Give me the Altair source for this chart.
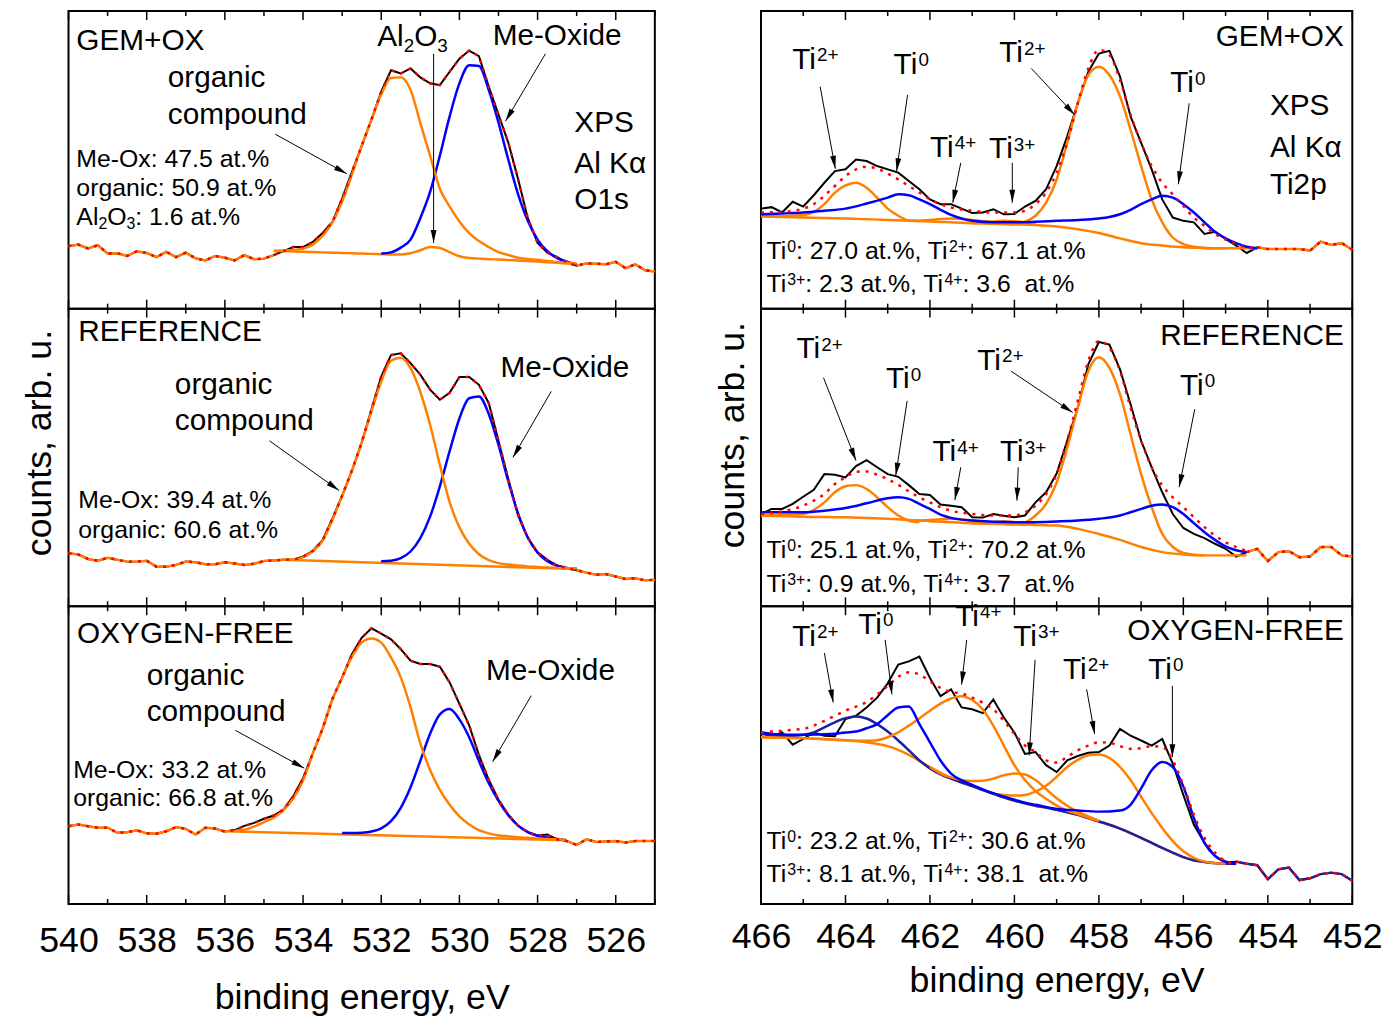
import math
import re
import altair as alt
import pandas as pd

FONT = "Liberation Sans"
ORANGE = "#ff8000"
BLUE = "#0000ff"
NAVY = "#1f1fa0"
RED = "#ff0000"
W_L, W_R, H = 591, 596, 300
ARROW_PATH = "M0,-1L0.45,1L-0.45,1Z"
ARROW_SIZE = 170
AX_FS = 36

# measurement grids (0.25 eV step)
O1S_X = [round(540 - 0.25 * i, 2) for i in range(61)]
TI_X = [round(466 - 0.25 * i, 2) for i in range(57)]
O1S_MAJOR = [540, 538, 536, 534, 532, 530, 528, 526]
O1S_MINOR = [539, 537, 535, 533, 531, 529, 527, 525]
TI_MAJOR = [466, 464, 462, 460, 458, 456, 454, 452]
TI_MINOR = [465, 463, 461, 459, 457, 455, 453]


def steps(start, values):
    return [round(start - 0.25 * i, 2) for i in range(len(values))], values


def pairs(p):
    return [a for a, b in p], [b for a, b in p]


# ---------------- O1s : GEM+OX ----------------
L1_DATA = [21.0, 21.5, 20.2, 21.3, 18.5, 18.6, 17.7, 19.3, 18.7, 17.3, 19.1, 17.3, 18.8, 16.9, 16.2,
           17.7, 17.1, 16.2, 18.0, 16.6, 16.8, 18.0, 19.3, 20.7, 20.7, 22.4, 25.4, 29.1, 37.0, 45.9,
           54.7, 63.5, 72.9, 80.1, 79.0, 80.7, 77.7, 75.7, 75.1, 79.6, 84.0, 86.7, 84.8, 74.6, 65.2,
           55.8, 43.6, 30.4, 22.1, 18.8, 17.3, 15.5, 14.4, 15.2, 15.1, 14.9, 15.7, 13.6, 14.9, 12.9, 12.5]
L1_ORG = steps(534.75, [19.4, 19.5, 19.7, 20.2, 21.5, 24.5, 29.0, 36.0, 45.0, 54.7, 63.5, 72.0, 77.5, 77.7,
                        73.5, 62.4, 51.4, 40.3, 34.3, 29.3, 25.4, 22.7, 20.7, 19.0, 18.0, 17.1, 16.7, 16.4,
                        16.0, 15.7, 15.4, 15.2])
L1_MEOX = steps(532.0, [18.5, 18.9, 20.5, 23.2, 30.4, 39.2, 51.4, 64.6, 75.7, 81.8, 81.5, 73.5, 62.5, 50.1,
                        38.5, 29.5, 23.2, 19.3, 17.0, 15.8, 14.9])
L1_AL2O3 = steps(534.75, [19.4, 19.3, 19.2, 19.1, 19.0, 18.9, 18.8, 18.7, 18.6, 18.5, 18.4, 18.3, 18.2, 18.2,
                          18.6, 19.6, 20.7, 20.4, 19.0, 17.6, 17.0, 16.8, 16.6, 16.5, 16.3, 16.2, 16.0, 15.8,
                          15.6, 15.4, 15.2, 14.9])

# ---------------- O1s : REFERENCE ----------------
L2_DATA = [17.8, 17.4, 15.9, 15.3, 16.3, 15.6, 15.0, 15.0, 15.3, 13.3, 13.3, 13.9, 15.0, 14.8, 14.1,
           14.1, 14.8, 14.4, 13.9, 14.3, 15.2, 15.4, 15.6, 15.6, 16.7, 18.6, 22.2, 29.4, 37.2, 45.6,
           55.0, 66.1, 77.2, 84.4, 85.0, 81.7, 77.8, 72.8, 69.4, 71.7, 77.0, 77.0, 74.4, 68.3, 55.6,
           42.8, 30.6, 23.0, 18.1, 15.6, 13.7, 12.8, 12.1, 11.3, 10.6, 10.8, 10.0, 9.2, 9.4, 8.7, 8.9]
L2_ORG = steps(534.5, [15.6, 15.6, 16.5, 18.5, 22.0, 29.0, 37.0, 45.5, 55.0, 65.5, 75.5, 82.5, 83.5, 80.0,
                       72.0, 61.0, 47.5, 35.0, 26.5, 21.0, 17.5, 15.5, 14.5, 14.0, 13.7, 13.4, 13.2, 13.0,
                       12.9, 12.8, 12.7])
L2_MEOX = steps(532.0, [15.1, 15.3, 16.2, 18.4, 22.9, 30.1, 40.3, 52.1, 63.1, 69.9, 70.5, 64.6, 54.2, 42.0,
                        31.2, 23.1, 18.0, 15.1, 13.6, 12.9, 12.6])
L2_BASE = ([534.5, 527.0], [15.6, 12.5])

# ---------------- O1s : OXYGEN-FREE ----------------
L3_DATA = [26.1, 26.7, 26.1, 25.6, 25.6, 23.9, 24.1, 24.7, 23.7, 23.6, 24.4, 25.8, 25.2, 23.3, 25.6,
           25.3, 24.3, 24.8, 26.2, 27.2, 28.6, 29.7, 31.7, 36.2, 42.2, 50.6, 58.9, 68.9, 76.1, 83.9,
           89.4, 92.6, 90.8, 88.9, 85.6, 81.7, 80.6, 80.6, 79.7, 74.4, 67.2, 60.0, 50.0, 41.7, 35.0,
           30.0, 26.3, 24.1, 23.0, 23.3, 21.7, 21.1, 19.8, 21.7, 20.8, 21.0, 21.1, 20.6, 21.1, 21.1, 21.1]
L3_ORG = steps(535.75, [24.6, 24.9, 26.0, 27.5, 29.0, 31.5, 35.5, 41.5, 50.5, 58.9, 68.5, 76.0, 83.0, 87.8,
                        89.2, 87.8, 82.8, 76.1, 66.1, 53.9, 45.0, 38.3, 33.3, 29.4, 26.7, 24.8, 23.7, 23.0,
                        22.7, 22.4, 22.2, 22.0, 21.8, 21.7, 21.4])
L3_MEOX = steps(533.0, [23.8, 23.8, 23.9, 24.3, 25.4, 27.8, 32.3, 39.2, 48.1, 57.2, 63.7, 65.5, 62.0, 56.0,
                        48.0, 40.6, 34.6, 29.8, 26.3, 24.1, 22.9, 22.3, 21.8, 21.4])
L3_BASE = ([536.0, 527.25], [24.4, 21.4])

# ---------------- Ti2p : GEM+OX ----------------
R1_DATA = [33.6, 34.1, 32.3, 35.9, 34.3, 38.1, 42.3, 46.2, 46.8, 50.1, 49.6, 47.9, 46.8, 45.7, 42.9,
           40.1, 36.7, 35.1, 35.1, 33.6, 32.1, 32.3, 33.4, 31.7, 31.8, 34.3, 36.2, 40.1, 47.9, 57.9,
           69.0, 79.6, 85.7, 86.6, 78.0, 64.6, 55.7, 46.8, 36.7, 30.6, 29.5, 29.0, 25.1, 25.8, 23.4,
           21.2, 18.7, 20.6, 20.0, 20.0, 20.0, 20.0, 19.5, 22.5, 21.4, 22.0, 19.8]
R1_BG = [(466, 31.0), (465, 30.6), (464, 30.3), (463, 29.8), (462, 29.3), (461, 28.7), (460, 28.3),
         (459.5, 28.1), (459, 27.6), (458.5, 26.7), (458, 25.4), (457.5, 23.6), (457, 22.0), (456.5, 21.2),
         (456, 20.6), (455.5, 20.4), (455, 20.3), (454.25, 20.3)]
R1_TI0 = [(466, 31.7), (465.5, 32.0), (465, 32.3), (464.5, 32.9), (464, 33.6), (463.5, 35.3), (463, 37.3),
          (462.75, 38.4), (462.5, 38.1), (462.25, 36.7), (462, 35.1), (461.75, 33.2), (461.5, 31.5),
          (461.25, 30.3), (461, 29.5), (460.5, 29.0), (460, 29.0), (459.5, 29.2), (459, 29.5), (458.5, 29.8),
          (458, 30.3), (457.75, 30.8), (457.5, 31.7), (457.25, 33.2), (457, 35.1), (456.75, 36.7),
          (456.5, 37.9), (456.25, 37.3), (456, 35.1), (455.75, 32.3), (455.5, 29.0), (455.25, 25.8),
          (455, 23.6), (454.75, 22.0), (454.5, 20.8), (454.25, 20.3)]
R1_TI2_SAT = [(466, 31.0), (465, 31.4), (464.75, 32.5), (464.5, 35.1), (464.25, 39.0), (464, 41.4),
              (463.75, 42.3), (463.5, 40.6), (463.25, 37.3), (463, 33.6), (462.75, 31.2), (462.5, 29.6),
              (462.25, 29.4)]
R1_TI4 = [(462.5, 29.4), (462, 29.8), (461.5, 30.3), (461, 29.8), (460.5, 29.0), (460, 28.3)]
R1_TI3 = [(461, 28.7), (460.5, 29.2), (460.25, 29.5), (460, 29.4), (459.75, 29.0), (459.5, 28.3)]
R1_TI2 = [(460, 28.5), (459.75, 29.2), (459.5, 31.2), (459.25, 35.6), (459, 43.4), (458.75, 55.7),
          (458.5, 69.0), (458.25, 78.5), (458, 81.3), (457.75, 78.5), (457.5, 71.3), (457.25, 60.1),
          (457, 47.9), (456.75, 36.7), (456.5, 29.0), (456.25, 23.9), (456, 21.7), (455.75, 20.8),
          (455.5, 20.4), (455, 20.3)]
R1_FIT = [(466, 32.3), (465.5, 32.5), (465, 33.6), (464.75, 35.1), (464.5, 37.9), (464.25, 41.2), (464, 44.5),
          (463.75, 46.8), (463.5, 47.7), (463.25, 47.0), (463, 45.4), (462.75, 43.4), (462.5, 41.2),
          (462.25, 39.0), (462, 36.7), (461.75, 35.1), (461.5, 34.0), (461, 32.9), (460.5, 32.3), (460, 32.3),
          (459.75, 32.9), (459.5, 35.1), (459.25, 39.0), (459, 45.7), (458.75, 55.7), (458.5, 69.0),
          (458.25, 80.7), (458, 86.9), (457.75, 85.2), (457.5, 76.8), (457.25, 65.1), (457, 55.7),
          (456.75, 47.9), (456.5, 42.3), (456.25, 38.4), (456, 34.5), (455.75, 30.6), (455.5, 27.8),
          (455.25, 25.1), (455, 23.2), (454.75, 21.7), (454.5, 20.6), (454.25, 20.3)]

# ---------------- Ti2p : REFERENCE ----------------
R2_DATA = [31.0, 32.7, 32.7, 34.4, 36.8, 39.1, 44.4, 44.2, 43.3, 47.1, 49.1, 46.7, 44.4, 43.5, 40.7,
           37.7, 37.4, 34.2, 33.8, 33.3, 29.9, 29.8, 31.0, 30.4, 29.9, 30.5, 34.9, 38.3, 44.6, 55.6,
           66.7, 81.3, 88.8, 87.9, 79.6, 67.9, 55.6, 46.7, 38.3, 31.0, 26.3, 24.3, 22.9, 21.0, 19.3,
           16.7, 18.2, 19.3, 15.2, 18.2, 18.5, 16.5, 16.7, 19.9, 19.9, 17.1, 16.7]
R2_BG = [(466, 30.5), (465, 30.1), (464, 29.9), (463, 29.4), (462, 28.6), (461, 27.9), (460, 27.5), (459, 27.1),
         (458.5, 26.0), (458, 24.3), (457.5, 22.3), (457, 19.9), (456.5, 18.2), (456, 17.4), (455.5, 17.1),
         (454.5, 17.1)]
R2_TI0 = [(466, 31.6), (465, 31.6), (464.5, 32.1), (464, 33.0), (463.5, 34.6), (463, 36.3), (462.75, 36.6),
          (462.5, 36.1), (462.25, 34.4), (462, 32.7), (461.75, 30.8), (461.5, 29.7), (461, 28.8), (460, 28.2),
          (459, 28.5), (458.5, 28.8), (458, 29.4), (457.5, 30.5), (457.25, 31.6), (457, 32.7), (456.75, 33.8),
          (456.5, 34.2), (456.25, 33.3), (456, 31.0), (455.75, 27.9), (455.5, 24.9), (455.25, 22.3),
          (455, 20.1), (454.75, 18.8), (454.5, 18.2)]
R2_TI2_SAT = [(466, 30.5), (465, 31.0), (464.75, 32.4), (464.5, 34.9), (464.25, 38.3), (464, 40.3),
              (463.75, 40.7), (463.5, 39.4), (463.25, 36.6), (463, 33.3), (462.75, 30.5), (462.5, 28.8),
              (462.25, 28.2)]
R2_TI4 = [(462.5, 28.6), (462, 29.0), (461.5, 29.4), (461, 28.8), (460.5, 27.9), (460, 27.5)]
R2_TI3 = [(461, 27.9), (460.5, 28.2), (460.25, 28.6), (460, 28.3), (459.75, 27.9), (459.5, 27.5)]
R2_TI2 = [(460, 27.7), (459.75, 28.2), (459.5, 30.5), (459.25, 34.4), (459, 41.6), (458.75, 53.3),
          (458.5, 66.7), (458.25, 79.0), (458, 83.7), (457.75, 80.1), (457.5, 71.2), (457.25, 57.8),
          (457, 44.4), (456.75, 33.3), (456.5, 24.3), (456.25, 19.9), (456, 17.9), (455.75, 17.3),
          (455.5, 17.1)]
R2_FIT = [(466, 31.0), (465.5, 31.9), (465, 33.8), (464.75, 35.5), (464.5, 37.7), (464.25, 41.1), (464, 43.3),
          (463.75, 45.2), (463.5, 45.3), (463.25, 44.2), (463, 42.7), (462.75, 40.8), (462.5, 38.6),
          (462.25, 36.6), (462, 34.9), (461.75, 33.3), (461.5, 32.1), (461, 31.0), (460.5, 30.5), (460, 30.5),
          (459.75, 31.6), (459.5, 33.8), (459.25, 37.7), (459, 44.4), (458.75, 55.6), (458.5, 69.0),
          (458.25, 82.4), (458, 89.1), (457.75, 86.8), (457.5, 79.0), (457.25, 66.7), (457, 55.6),
          (456.75, 46.7), (456.5, 40.6), (456.25, 36.6), (456, 33.3), (455.75, 29.9), (455.5, 26.6),
          (455.25, 23.8), (455, 21.5), (454.75, 19.9), (454.5, 18.5)]

# ---------------- Ti2p : OXYGEN-FREE ----------------
R3_DATA = [57.6, 56.2, 57.6, 53.5, 55.4, 57.6, 56.5, 56.3, 62.1, 63.2, 66.0, 69.3, 74.1, 80.4, 81.5,
           83.1, 75.9, 69.8, 72.1, 66.0, 65.4, 64.1, 68.7, 62.6, 57.6, 50.4, 51.0, 46.6, 44.3, 48.2,
           49.7, 50.8, 51.0, 53.2, 58.8, 56.5, 54.9, 53.2, 55.4, 47.1, 36.6, 26.6, 20.5, 16.1, 13.9,
           14.2, 13.5, 13.0, 8.3, 11.6, 12.2, 8.0, 8.6, 10.0, 10.5, 10.0, 7.8]
R3_BG = [(466, 56.0), (465, 55.7), (464.5, 55.4), (464, 55.0), (463.5, 54.3), (463, 53.0), (462.5, 50.1),
         (462, 46.0), (461.5, 42.3), (461, 39.6), (460.5, 37.0), (460, 34.7), (459.5, 33.0), (459, 31.6),
         (458.5, 29.9), (458, 27.7), (457.5, 25.3), (457, 22.2), (456.5, 18.8), (456, 15.7), (455.5, 14.1),
         (455, 13.5), (454.75, 13.5)]
R3_TI2_SAT = [(466, 57.1), (465.75, 56.8), (465.5, 56.5), (465.25, 56.5), (465, 56.8), (464.75, 57.6),
              (464.5, 59.3), (464.25, 61.0), (464, 62.4), (463.75, 63.0), (463.5, 62.3), (463.25, 60.4),
              (463, 57.9), (462.75, 54.9), (462.5, 51.6), (462.25, 48.2), (462, 45.5), (461.75, 43.5),
              (461.5, 42.1), (461.25, 40.8), (461, 39.6), (460.75, 38.2), (460.5, 37.0), (460.25, 35.8),
              (460, 34.7), (459.75, 33.8), (459.5, 33.0), (459.25, 32.4), (459, 31.6), (458.75, 30.8),
              (458.5, 29.9), (458.25, 28.8), (458, 27.7), (457.75, 26.6), (457.5, 25.3), (457.25, 23.8),
              (457, 22.2), (456.75, 20.5), (456.5, 18.8), (456.25, 17.2), (456, 15.7), (455.75, 14.6),
              (455.5, 14.1), (455.25, 13.7), (455, 13.5), (454.75, 13.5)]
R3_TI0 = [(466, 57.6), (465.75, 57.1), (465.5, 56.9), (465.25, 56.8), (465, 56.8), (464.75, 56.9),
          (464.5, 57.0), (464.25, 57.2), (464, 57.6), (463.75, 57.9), (463.5, 59.0), (463.25, 60.4),
          (463, 63.4), (462.75, 66.0), (462.5, 66.3), (462.25, 60.4), (462, 54.3), (461.75, 48.2),
          (461.5, 43.8), (461.25, 41.5), (461, 40.0), (460.75, 38.5), (460.5, 37.2), (460.25, 36.0),
          (460, 35.0), (459.75, 34.0), (459.5, 33.3), (459, 31.9), (458.5, 31.4), (458, 31.0), (457.5, 31.4),
          (457.25, 33.3), (457, 38.8), (456.75, 44.9), (456.5, 47.7), (456.25, 46.0), (456, 39.4),
          (455.75, 28.8), (455.5, 20.5), (455.25, 16.1), (455, 14.2), (454.75, 13.5)]
R3_TI4 = [(466, 56.0), (465, 55.7), (464, 55.0), (463.5, 54.8), (463.25, 55.0), (463, 56.0), (462.75, 57.6),
          (462.5, 59.9), (462.25, 62.3), (462, 64.9), (461.75, 67.3), (461.5, 69.0), (461.25, 69.8),
          (461, 68.5), (460.75, 65.4), (460.5, 59.9), (460.25, 53.2), (460, 46.6), (459.75, 41.6),
          (459.5, 37.9), (459.25, 35.3), (459, 33.0), (458.75, 31.3), (458.5, 30.2), (458.25, 29.0),
          (458, 27.9)]
R3_TI3 = [(462, 46.0), (461.75, 43.8), (461.5, 42.5), (461.25, 41.6), (461, 41.3), (460.75, 41.4),
          (460.5, 42.1), (460.25, 43.2), (460, 43.8), (459.75, 43.5), (459.5, 41.6), (459.25, 38.6),
          (459, 35.5), (458.75, 33.0), (458.5, 31.0), (458.25, 29.4), (458, 27.9)]
R3_TI2 = [(460.5, 37.0), (460.25, 36.6), (460, 36.4), (459.75, 36.6), (459.5, 37.7), (459.25, 39.7),
          (459, 42.7), (458.75, 46.0), (458.5, 48.4), (458.25, 49.9), (458, 50.2), (457.75, 49.0),
          (457.5, 46.0), (457.25, 41.6), (457, 36.0), (456.75, 30.5), (456.5, 25.5), (456.25, 21.1),
          (456, 17.7), (455.75, 15.5), (455.5, 14.2), (455.25, 13.7), (455, 13.5)]
R3_FIT = [(466, 57.6), (465.75, 57.9), (465.5, 58.2), (465.25, 58.5), (465, 58.8), (464.75, 59.9),
          (464.5, 61.5), (464.25, 63.2), (464, 64.9), (463.75, 66.3), (463.5, 67.8), (463.25, 70.4),
          (463, 73.2), (462.75, 76.3), (462.5, 77.8), (462.25, 77.1), (462, 74.8), (461.75, 72.6),
          (461.5, 71.2), (461.25, 70.7), (461, 69.3), (460.75, 67.6), (460.5, 65.4), (460.25, 61.5),
          (460, 57.1), (459.75, 53.2), (459.5, 51.0), (459.25, 48.2), (459, 47.5), (458.75, 49.4),
          (458.5, 51.6), (458.25, 53.2), (458, 54.3), (457.75, 54.1), (457.5, 53.0), (457.25, 52.1),
          (457, 52.3), (456.75, 53.0), (456.5, 52.7), (456.25, 48.2), (456, 39.9), (455.75, 29.9),
          (455.5, 22.2), (455.25, 17.2), (455, 14.4), (454.75, 13.5)]

# ---------------- annotations (^{..} superscript, _{..} subscript) ----------------
L1_TEXT = [("GEM+OX", 539.8, 90.0, 30, "left"), ("organic", 537.46, 77.3, 30, "left"),
           ("compound", 537.46, 65.0, 30, "left"), ("Me-Ox: 47.5 at.%", 539.8, 50.3, 25, "left"),
           ("organic: 50.9 at.%", 539.8, 40.6, 25, "left"), ("Al_{2}O_{3}: 1.6 at.%", 539.8, 30.9, 25, "left"),
           ("Al_{2}O_{3}", 531.2, 91.2, 30, "center"), ("Me-Oxide", 527.5, 91.7, 30, "center"),
           ("XPS", 527.06, 62.4, 30, "left"), ("Al Kα", 527.06, 48.6, 30, "left"), ("O1s", 527.06, 36.5, 30, "left")]
L1_ARROWS = [(534.71, 58.6, 532.88, 45.3), (530.66, 85.6, 530.66, 22.1), (527.8, 85.6, 528.82, 63.0)]

L2_TEXT = [("REFERENCE", 539.75, 92.2, 30, "left"), ("organic", 537.28, 74.4, 30, "left"),
           ("compound", 537.28, 62.2, 30, "left"), ("Me-Ox: 39.4 at.%", 539.75, 35.6, 25, "left"),
           ("organic: 60.6 at.%", 539.75, 25.6, 25, "left"), ("Me-Oxide", 527.3, 80.0, 30, "center")]
L2_ARROWS = [(534.86, 55.6, 533.08, 38.9), (527.65, 72.2, 528.63, 50.0)]

L3_TEXT = [("OXYGEN-FREE", 539.78, 90.8, 30, "left"), ("organic", 538.0, 76.7, 30, "left"),
           ("compound", 538.0, 64.4, 30, "left"), ("Me-Ox: 33.2 at.%", 539.88, 45.0, 25, "left"),
           ("organic: 66.8 at.%", 539.88, 35.6, 25, "left"), ("Me-Oxide", 527.67, 78.3, 30, "center")]
L3_ARROWS = [(535.73, 58.3, 533.97, 45.6), (528.16, 70.0, 529.15, 47.8)]

R1_TEXT = [("GEM+OX", 452.2, 91.3, 30, "right"), ("Ti^{2+}", 465.26, 83.5, 30, "left"),
           ("Ti^{0}", 462.86, 81.8, 30, "left"), ("Ti^{4+}", 462.0, 54.0, 30, "left"),
           ("Ti^{3+}", 460.6, 53.5, 30, "left"), ("Ti^{2+}", 460.36, 85.7, 30, "left"),
           ("Ti^{0}", 456.31, 75.7, 30, "left"), ("XPS", 453.95, 68.0, 30, "left"),
           ("Al Kα", 453.95, 54.0, 30, "left"), ("Ti2p", 453.95, 41.5, 30, "left"),
           ("Ti^{0}: 27.0 at.%, Ti^{2+}: 67.1 at.%", 465.87, 19.3, 25, "left"),
           ("Ti^{3+}: 2.3 at.%, Ti^{4+}: 3.6\u00a0 at.%", 465.87, 8.3, 25, "left")]
R1_ARROWS = [(464.6, 74.6, 464.24, 47.0), (462.53, 71.8, 462.79, 46.2), (461.27, 49.0, 461.46, 35.6),
             (460.05, 49.0, 460.05, 35.6), (459.6, 80.7, 458.57, 65.1), (455.86, 69.0, 456.12, 41.8)]

R2_TEXT = [("REFERENCE", 452.2, 90.7, 30, "right"), ("Ti^{2+}", 465.16, 86.3, 30, "left"),
           ("Ti^{0}", 463.04, 76.2, 30, "left"), ("Ti^{4+}", 461.94, 51.7, 30, "left"),
           ("Ti^{3+}", 460.34, 51.7, 30, "left"), ("Ti^{2+}", 460.88, 82.4, 30, "left"),
           ("Ti^{0}", 456.08, 74.0, 30, "left"),
           ("Ti^{0}: 25.1 at.%, Ti^{2+}: 70.2 at.%", 465.87, 18.8, 25, "left"),
           ("Ti^{3+}: 0.9 at.%, Ti^{4+}: 3.7\u00a0 at.%", 465.87, 7.6, 25, "left")]
R2_ARROWS = [(464.52, 76.8, 463.75, 48.9), (462.54, 69.0, 462.81, 43.9), (461.27, 46.7, 461.41, 35.7),
             (459.91, 46.7, 459.94, 35.5), (460.08, 79.0, 458.62, 65.1), (455.73, 66.2, 456.1, 40.0)]

R3_TEXT = [("OXYGEN-FREE", 452.2, 91.5, 30, "right"), ("Ti^{2+}", 465.26, 89.8, 30, "left"),
           ("Ti^{0}", 463.70, 93.7, 30, "left"), ("Ti^{4+}", 461.4, 96.5, 30, "left"),
           ("Ti^{3+}", 460.03, 89.8, 30, "left"), ("Ti^{2+}", 458.85, 78.7, 30, "left"),
           ("Ti^{0}", 456.83, 78.7, 30, "left"),
           ("Ti^{0}: 23.2 at.%, Ti^{2+}: 30.6 at.%", 465.87, 21.1, 25, "left"),
           ("Ti^{3+}: 8.1 at.%, Ti^{4+}: 38.1\u00a0 at.%", 465.87, 10.0, 25, "left")]
R3_ARROWS = [(464.5, 84.3, 464.29, 67.7), (463.06, 88.7, 462.9, 70.4), (461.13, 88.7, 461.25, 73.7),
             (459.51, 82.0, 459.65, 49.9), (458.29, 72.1, 458.1, 57.1), (456.26, 73.2, 456.26, 49.3)]

# advance widths of Liberation Sans (Arial metrics), per 1000 em
CW = {" ": 278, "\u00a0": 278, "%": 889, "+": 584, ",": 278, "-": 333, ".": 278, ":": 278,
      "A": 667, "C": 722, "E": 667, "F": 611, "G": 778, "K": 667, "M": 833, "N": 722, "O": 778, "P": 667,
      "R": 722, "S": 667, "T": 611, "X": 667, "Y": 667, "a": 556, "c": 500, "d": 556, "e": 556, "g": 556,
      "i": 222, "l": 222, "m": 833, "n": 556, "o": 556, "p": 556, "r": 333, "s": 500, "t": 278, "u": 556,
      "x": 500, "α": 578}


def text_w(s, fs):
    return sum(CW.get(c, 556) for c in s) * fs / 1000.0


def rich(text, x0, y0, fs, align, ppx):
    small = round(fs * 0.64)
    segs = []
    for p in re.split(r"(\^\{[^}]*\}|_\{[^}]*\})", text):
        if not p:
            continue
        if p.startswith("^{"):
            segs.append((p[2:-1], small, fs * 0.16))
        elif p.startswith("_{"):
            segs.append((p[2:-1], small, -fs * 0.3))
        else:
            segs.append((p, fs, 0.0))
    total = sum(text_w(s, f) for s, f, _ in segs)
    cum = {"left": 0.0, "center": -total / 2, "right": -total}[align]
    out = []
    for s, f, sh in segs:
        lead = len(s) - len(s.lstrip(" "))
        out.append({"x": x0 - (cum + text_w(" " * lead, f)) / ppx, "y": y0 + sh * 100 / H,
                    "text": s.strip(" "), "fs": f})
        cum += text_w(s, f)
    return out


def panel(col, y_data, fit_lo, fit_hi, edge_color, comps, fit_curve, texts, arrows, bottom, middle):
    left = col == "L"
    xs = O1S_X if left else TI_X
    dom = [525, 540] if left else [452, 466]
    width = W_L if left else W_R
    ppx = width / (dom[1] - dom[0])
    xscale = alt.Scale(domain=dom, reverse=True, nice=False, zero=False)
    yscale = alt.Scale(domain=[0, 100], nice=False, zero=False)
    if bottom:
        xaxis = alt.Axis(values=O1S_MAJOR if left else TI_MAJOR, format="d", ticks=False, tickSize=0,
                         domain=False, grid=False, labelFont=FONT, labelFontSize=AX_FS, labelColor="black",
                         labelPadding=20 if left else 16, labelFlush=False, labelOverlap=False,
                         title="binding energy, eV", titleFont=FONT, titleFontSize=AX_FS,
                         titleFontWeight="normal", titleColor="black",
                         titlePadding=22 if left else 9)
    else:
        xaxis = None
    if middle:
        yaxis = alt.Axis(title="counts, arb. u.", labels=False, ticks=False, tickSize=0, domain=False,
                         grid=False, titleFont=FONT, titleFontSize=AX_FS, titleFontWeight="normal",
                         titleColor="black", titlePadding=10, titleY=135 if left else 127)
    else:
        yaxis = None

    def X(f="x"):
        return alt.X(f"{f}:Q", scale=xscale, axis=xaxis)

    def Y(f="y"):
        return alt.Y(f"{f}:Q", scale=yscale, axis=yaxis)

    layers = []
    ddf = pd.DataFrame({"x": xs, "y": y_data})
    layers.append(alt.Chart(ddf).mark_line(color="black", strokeWidth=2).encode(x=X(), y=Y()))
    for (cx, cy), color in comps:
        cdf = pd.DataFrame({"x": cx, "y": cy})
        layers.append(alt.Chart(cdf).mark_line(color=color, strokeWidth=2.5, interpolate="monotone")
                      .encode(x=X(), y=Y()))
    rows = []
    for x, y in zip(xs, y_data):
        if fit_hi is not None and x >= fit_hi:
            rows.append({"x": x, "y": y, "seg": "a"})
        if x <= fit_lo:
            rows.append({"x": x, "y": y, "seg": "b"})
    edf = pd.DataFrame(rows)
    layers.append(alt.Chart(edf).mark_line(color=edge_color, strokeWidth=2.5)
                  .encode(x=X(), y=Y(), detail="seg:N"))
    dots = dict(color=RED, strokeWidth=2.5, strokeDash=[3, 6])
    if fit_curve is None:
        layers.append(alt.Chart(ddf).mark_line(**dots).encode(x=X(), y=Y()))
    else:
        fx, fy = fit_curve
        layers.append(alt.Chart(pd.DataFrame({"x": fx, "y": fy}))
                      .mark_line(interpolate="monotone", **dots).encode(x=X(), y=Y()))
        layers.append(alt.Chart(edf).mark_line(**dots).encode(x=X(), y=Y(), detail="seg:N"))
    # inward ticks on top and bottom edges
    major = O1S_MAJOR if left else TI_MAJOR
    minor = O1S_MINOR if left else TI_MINOR
    for vals, ln in ((major, 9), (minor, 5)):
        tdf = pd.DataFrame({"t": vals})
        layers.append(alt.Chart(tdf).mark_rule(color="black", strokeWidth=1.5)
                      .encode(x=X("t"), y=alt.value(0), y2=alt.value(ln)))
        layers.append(alt.Chart(tdf).mark_rule(color="black", strokeWidth=1.5)
                      .encode(x=X("t"), y=alt.value(H), y2=alt.value(H - ln)))
    # arrows
    adf = pd.DataFrame([{"x": a, "y": b, "x2": c, "y2": d} for a, b, c, d in arrows])
    layers.append(alt.Chart(adf).mark_rule(color="black", strokeWidth=1)
                  .encode(x=X("x"), y=Y("y"), x2="x2:Q", y2="y2:Q"))
    r = math.sqrt(ARROW_SIZE) / 2
    heads = []
    for x1, y1, x2, y2 in arrows:
        dxp = -(x2 - x1) * ppx
        dyp = -(y2 - y1) * H / 100
        ln = math.hypot(dxp, dyp)
        ux, uy = dxp / ln, dyp / ln
        heads.append({"x": x2 + ux * r / ppx, "y": y2 + uy * r * 100 / H,
                      "a": math.degrees(math.atan2(ux, -uy)) % 360})
    layers.append(alt.Chart(pd.DataFrame(heads))
                  .mark_point(shape=ARROW_PATH, filled=True, color="black", opacity=1, size=ARROW_SIZE,
                              strokeWidth=0)
                  .encode(x=X(), y=Y(), angle=alt.Angle("a:Q", scale=None)))
    # texts (rich text split into positioned pieces)
    pieces = []
    for t, x, y, fs, al in texts:
        pieces.extend(rich(t, x, y, fs, al, ppx))
    groups = {}
    for pc in pieces:
        groups.setdefault(pc["fs"], []).append(pc)
    for fs, rws in groups.items():
        layers.append(alt.Chart(pd.DataFrame(rws))
                      .mark_text(align="left", baseline="middle", font=FONT, fontSize=fs, color="black")
                      .encode(x=X(), y=Y(), text="text:N"))
    return alt.layer(*layers).properties(width=width, height=H)


L1 = panel("L", L1_DATA, 527.0, 534.75, ORANGE,
           [(L1_AL2O3, ORANGE), (L1_MEOX, BLUE), (L1_ORG, ORANGE)], None, L1_TEXT, L1_ARROWS, False, False)
L2 = panel("L", L2_DATA, 527.0, 534.5, ORANGE,
           [(L2_BASE, ORANGE), (L2_MEOX, BLUE), (L2_ORG, ORANGE)], None, L2_TEXT, L2_ARROWS, False, True)
L3 = panel("L", L3_DATA, 527.25, 536.0, ORANGE,
           [(L3_BASE, ORANGE), (L3_MEOX, BLUE), (L3_ORG, ORANGE)], None, L3_TEXT, L3_ARROWS, True, False)

R1 = panel("R", R1_DATA, 454.25, None, ORANGE,
           [(pairs(R1_BG), ORANGE), (pairs(R1_TI2_SAT), ORANGE), (pairs(R1_TI4), ORANGE),
            (pairs(R1_TI3), ORANGE), (pairs(R1_TI2), ORANGE), (pairs(R1_TI0), BLUE)],
           pairs(R1_FIT), R1_TEXT, R1_ARROWS, False, False)
R2 = panel("R", R2_DATA, 454.5, None, ORANGE,
           [(pairs(R2_BG), ORANGE), (pairs(R2_TI2_SAT), ORANGE), (pairs(R2_TI4), ORANGE),
            (pairs(R2_TI3), ORANGE), (pairs(R2_TI2), ORANGE), (pairs(R2_TI0), BLUE)],
           pairs(R2_FIT), R2_TEXT, R2_ARROWS, False, True)
R3 = panel("R", R3_DATA, 454.75, None, NAVY,
           [(pairs(R3_BG), ORANGE), (pairs(R3_TI2_SAT), NAVY), (pairs(R3_TI4), ORANGE),
            (pairs(R3_TI3), ORANGE), (pairs(R3_TI2), ORANGE), (pairs(R3_TI0), BLUE)],
           pairs(R3_FIT), R3_TEXT, R3_ARROWS, True, False)

left_col = alt.vconcat(L1, L2, L3, spacing=0, bounds="flush")
right_col = alt.vconcat(R1, R2, R3, spacing=0, bounds="flush")
# with flush bounds the column offset is measured between plot origins
chart = (alt.hconcat(left_col, right_col, spacing=698, bounds="flush")
         .properties(padding={"left": 13, "top": -3, "right": 5, "bottom": 0})
         .configure_view(stroke="black", strokeWidth=2))

chart.save("out.html", embed_options={"renderer": "svg", "actions": False})
